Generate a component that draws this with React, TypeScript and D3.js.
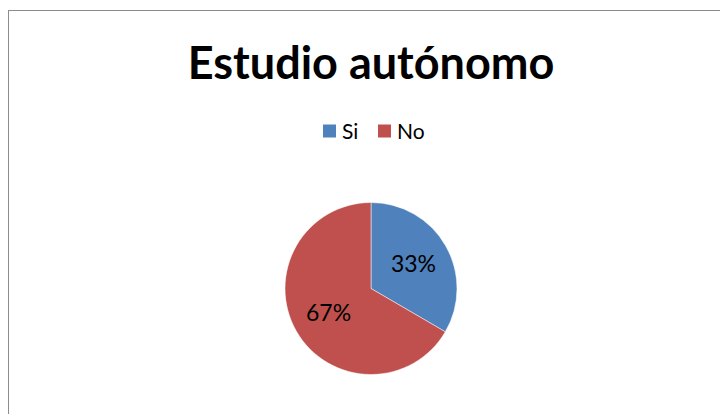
import React from "react";
import * as d3 from "d3";

const categories = ["Si", "No"];
const values = [33.4, 66.6];
const colors = ["#4F81BD", "#C0504D"];
const title = "Estudio autónomo";

export default function App() {
  const W = 720, H = 414;
  const cx = 371, cy = 288.5, R = 86;
  const pie = d3.pie<number>().sort(null).value((d) => d)(values);
  const arc = d3.arc<d3.PieArcDatum<number>>().innerRadius(0).outerRadius(R);
  const labelArc = d3.arc<d3.PieArcDatum<number>>().innerRadius(49).outerRadius(49);
  const total = d3.sum(values);
  const font = "Lato, 'Open Sans', sans-serif";
  const legendX = [323, 378];
  return (
    <svg width={W} height={H} style={{ position: "absolute", left: 0, top: 0 }}>
      <rect x={0} y={0} width={W} height={H} fill="#fff" />
      <rect x={8.5} y={10.5} width={760} height={460} fill="#fff" stroke="#8c8c8c" strokeWidth={1} />
      <text x={371} y={79} textAnchor="middle" fontFamily={font} fontWeight="bold" fontSize={45} fill="#000">
        {title}
      </text>
      {categories.map((c, i) => (
        <g key={c}>
          <rect x={legendX[i]} y={124.5} width={13} height={13} fill={colors[i]} />
          <text x={legendX[i] + 19} y={139} fontFamily={font} fontSize={21} fill="#000">
            {c}
          </text>
        </g>
      ))}
      <g transform={`translate(${cx},${cy})`}>
        {pie.map((p, i) => (
          <path key={i} d={arc(p) || ""} fill={colors[i]} stroke="#fff" strokeWidth={0.5} />
        ))}
        {pie.map((p, i) => {
          const [x, y] = labelArc.centroid(p);
          return (
            <text key={"l" + i} x={x} y={y} dy="0.36em" textAnchor="middle" fontFamily={font} fontSize={23} fill="#000">
              {Math.round((p.value / total) * 100) + "%"}
            </text>
          );
        })}
      </g>
    </svg>
  );
}
